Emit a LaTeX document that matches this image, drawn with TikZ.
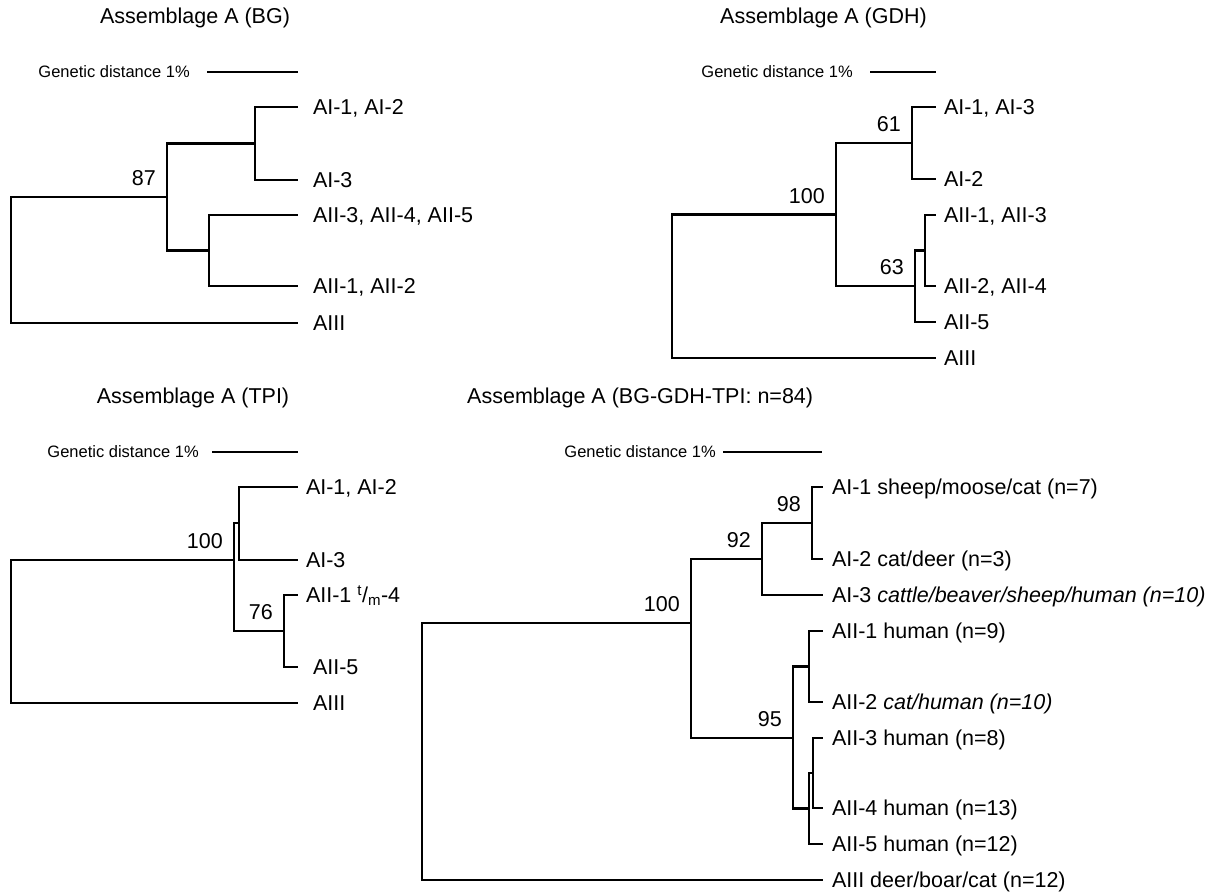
\documentclass[tikz,border=0pt]{standalone}
\usepackage{fontspec}
\setmainfont{Liberation Sans}
\usepackage{tikz}
\usetikzlibrary{positioning}
\newcommand{\lblfont}{\fontsize{21.5}{24}\selectfont}
\newcommand{\sclfont}{\fontsize{16.5}{19}\selectfont}
\tikzstyle{branch}=[draw,line width=2.6pt]
\tikzstyle{leaf}=[anchor=west,inner xsep=#1,inner ysep=0pt,outer sep=0pt,text height=15.4pt,text depth=0pt,font=\lblfont]
\tikzstyle{boot}=[anchor=south east,inner sep=0pt,xshift=-11pt,yshift=11pt,font=\lblfont]
\tikzstyle{heading}=[inner sep=0pt,font=\lblfont]
\tikzstyle{scaletext}=[anchor=east,inner sep=0pt,font=\sclfont]

\begin{document}
\begin{tikzpicture}[x=1pt,y=-1pt]
    \useasboundingbox (0,0) rectangle (1209,896);

    % Assemblage A (BG)
    \node[heading] (titleBG) at (195,18) {Assemblage A (BG)};
    \coordinate (barBGa) at (207,72);
    \coordinate (barBGb) at (298,72);
    \node[scaletext, left=17pt of barBGa] (scaleBG) {Genetic distance 1\%};
    \draw[branch] (barBGa) -- (barBGb);
    \coordinate (rBG) at (11,260);
    \coordinate (bg87) at (167,197);
    \coordinate (bgAI) at (255,143.5);
    \coordinate (bgAII) at (209,250.5);
    \foreach \y/\name/\txt in {107/bgA/{AI-1, AI-2}, 180/bgB/AI-3, 215/bgC/{AII-3, AII-4, AII-5},
                               286/bgD/{AII-1, AII-2}, 323/bgE/AIII}
        \node[leaf=15pt] (\name) at (298,\y) {\txt};
    \foreach \source/\dest in {rBG/bg87, rBG/bgE, bg87/bgAI, bg87/bgAII,
                               bgAI/bgA, bgAI/bgB, bgAII/bgC, bgAII/bgD}
        \path[branch] (\source) |- (\dest);
    \node[boot] (bBG87) at (bg87) {87};

    % Assemblage A (GDH)
    \node[heading] (titleGDH) at (823.5,18) {Assemblage A (GDH)};
    \coordinate (barGDHa) at (870,72);
    \coordinate (barGDHb) at (936,72);
    \node[scaletext, left=17pt of barGDHa] (scaleGDH) {Genetic distance 1\%};
    \draw[branch] (barGDHa) -- (barGDHb);
    \coordinate (rGDH) at (672,286.5);
    \coordinate (gd100) at (836,214.5);
    \coordinate (gd61) at (912,143);
    \coordinate (gd63) at (915,286);
    \coordinate (gdAII) at (925,250.5);
    \foreach \y/\name/\txt in {107/gdA/{AI-1, AI-3}, 179/gdB/AI-2, 215/gdC/{AII-1, AII-3},
                               286/gdD/{AII-2, AII-4}, 322/gdE/AII-5, 358/gdF/AIII}
        \node[leaf=8pt] (\name) at (936,\y) {\txt};
    \foreach \source/\dest in {rGDH/gd100, rGDH/gdF, gd100/gd61, gd100/gd63, gd61/gdA, gd61/gdB,
                               gd63/gdAII, gd63/gdE, gdAII/gdC, gdAII/gdD}
        \path[branch] (\source) |- (\dest);
    \foreach \name/\val in {gd100/100, gd61/61, gd63/63}
        \node[boot] (b\name) at (\name) {\val};

    % Assemblage A (TPI)
    \node[heading] (titleTPI) at (193,398) {Assemblage A (TPI)};
    \coordinate (barTPIa) at (212,452);
    \coordinate (barTPIb) at (298,452);
    \node[scaletext, left=13pt of barTPIa] (scaleTPI) {Genetic distance 1\%};
    \draw[branch] (barTPIa) -- (barTPIb);
    \coordinate (rTPI) at (11,631.5);
    \coordinate (tp100) at (234,560);
    \coordinate (tpAI) at (239,523);
    \coordinate (tp76) at (284,631);
    \foreach \y/\name/\gap/\txt in {487/tpA/8pt/{AI-1, AI-2}, 560/tpB/8pt/AI-3,
                                    595/tpC/8pt/{AII-1 \textsuperscript{t}/\textsubscript{m}-4},
                                    667/tpD/15pt/AII-5, 703/tpE/15pt/AIII}
        \node[leaf=\gap] (\name) at (298,\y) {\txt};
    \foreach \source/\dest in {rTPI/tp100, rTPI/tpE, tp100/tpAI, tp100/tp76,
                               tpAI/tpA, tpAI/tpB, tp76/tpC, tp76/tpD}
        \path[branch] (\source) |- (\dest);
    \foreach \name/\val in {tp100/100, tp76/76}
        \node[boot] (b\name) at (\name) {\val};

    % Assemblage A (BG-GDH-TPI: n=84)
    \node[heading, anchor=west] (titleAll) at (467,398) {Assemblage A (BG-GDH-TPI: n=84)};
    \coordinate (barAlla) at (723,452);
    \coordinate (barAllb) at (822,452);
    \node[scaletext, left=7pt of barAlla] (scaleAll) {Genetic distance 1\%};
    \draw[branch] (barAlla) -- (barAllb);
    \coordinate (rAll) at (422,751.5);
    \coordinate (al100) at (691,623);
    \coordinate (al92) at (762,559);
    \coordinate (al98) at (812,523);
    \coordinate (al95) at (793,738);
    \coordinate (alAIIa) at (809,666.5);
    \coordinate (alAIIb) at (809,808.5);
    \coordinate (alAIIc) at (813,773);
    \foreach \y/\name/\txt in {487/alA/{AI-1 sheep/moose/cat (n=7)},
                               559/alB/{AI-2 cat/deer (n=3)},
                               595/alC/{AI-3 \textit{cattle/beaver/sheep/human (n=10)}},
                               631/alD/{AII-1 human (n=9)},
                               702/alE/{AII-2 \textit{cat/human (n=10)}},
                               738/alF/{AII-3 human (n=8)},
                               808/alG/{AII-4 human (n=13)},
                               844/alH/{AII-5 human (n=12)},
                               880/alI/{AIII deer/boar/cat (n=12)}}
        \node[leaf=9pt] (\name) at (823,\y) {\txt};
    \foreach \source/\dest in {rAll/al100, rAll/alI, al100/al92, al100/al95, al92/al98, al92/alC,
                               al98/alA, al98/alB, al95/alAIIa, al95/alAIIb, alAIIa/alD, alAIIa/alE,
                               alAIIb/alAIIc, alAIIb/alH, alAIIc/alF, alAIIc/alG}
        \path[branch] (\source) |- (\dest);
    \foreach \name/\val in {al100/100, al92/92, al98/98, al95/95}
        \node[boot] (b\name) at (\name) {\val};
\end{tikzpicture}
\end{document}
